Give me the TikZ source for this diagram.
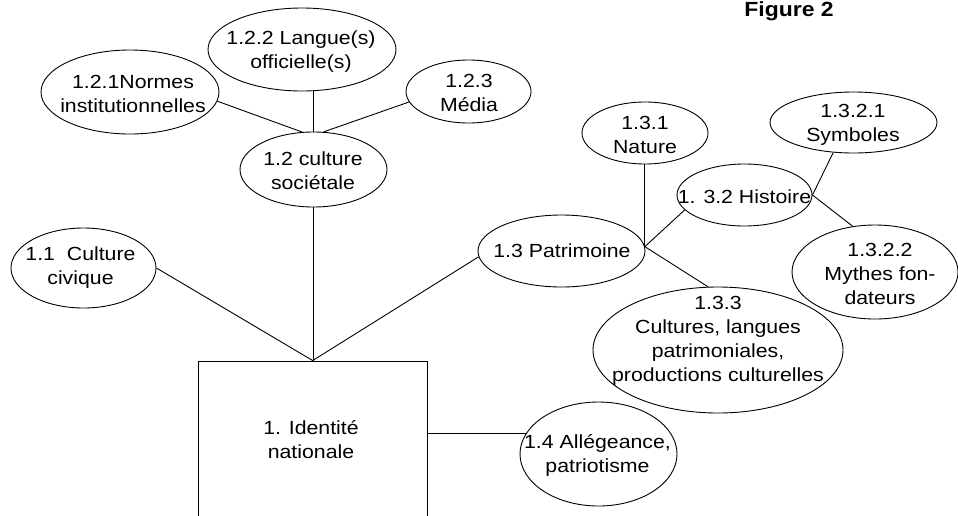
\documentclass[tikz,border=0pt]{standalone}
\usepackage{fontspec}
\setmainfont[FakeStretch=1.12]{Liberation Sans}
\usetikzlibrary{shapes.geometric}
\begin{document}
\begin{tikzpicture}[x=1pt,y=-1pt,
  every node/.style={font=\fontsize{19}{24}\selectfont},
  ell/.style={draw=black, ellipse, inner sep=0pt, line width=0.9pt},
  lbl/.style={align=center, inner sep=0pt},
  conn/.style={draw=black, line width=0.9pt},
  boxst/.style={draw=black, rectangle, inner sep=0pt, line width=0.9pt}]
\clip (0,0) rectangle (958,515);
% ellipses
\node[ell, minimum width=188pt, minimum height=83pt] (n122) at (302,49.5) {};
\node[ell, minimum width=178pt, minimum height=84pt] (n121) at (130,92) {};
\node[ell, minimum width=125pt, minimum height=63pt] (n123) at (468.5,91.5) {};
\node[ell, minimum width=147pt, minimum height=75pt] (n12) at (313.5,169.5) {};
\node[ell, minimum width=145pt, minimum height=80pt] (n11) at (83.5,268) {};
\node[ell, minimum width=167pt, minimum height=72pt] (n13) at (561.5,251) {};
\node[ell, minimum width=126pt, minimum height=62pt] (n131) at (645,133) {};
\node[ell, minimum width=135pt, minimum height=62pt] (n132) at (744.5,195) {};
\node[ell, minimum width=167pt, minimum height=61pt] (n1321) at (853.5,122.5) {};
\node[ell, minimum width=166pt, minimum height=94pt] (n1322) at (875,272) {};
\node[ell, minimum width=250pt, minimum height=126pt] (n133) at (718,350) {};
\node[ell, minimum width=157pt, minimum height=104pt] (n14) at (598.5,454) {};
\node[boxst, minimum width=228.7pt, minimum height=158pt] (box) at (312.7,440) {};
% labels
\node[lbl] (t122) at (301,51.5) {1.2.2 Langue(s)\\officielle(s)};
\node[lbl] (t121) at (133,94) {1.2.1Normes\\institutionnelles};
\node[lbl] (t123) at (469,93) {1.2.3\\Média};
\node[lbl] (t12) at (313,171) {1.2 culture\\sociétale};
\node[lbl] (t11) at (80.5,268) {1.1\ \ Culture\\civique};
\node[lbl] (t13) at (562,251) {1.3 Patrimoine};
\node[lbl] (t131) at (645,135) {1.3.1\\Nature};
\node[lbl] (t132) at (744.5,197) {1. 3.2 Histoire};
\node[lbl] (t1321) at (853,124.5) {1.3.2.1\\Symboles};
\node[lbl] (t1322) at (880,274) {1.3.2.2\\Mythes fon-\\dateurs};
\node[lbl] (t133) at (718,340.5) {1.3.3\\Cultures, langues\\patrimoniales,\\productions culturelles};
\node[lbl] (t14) at (597.5,455.5) {1.4 Allégeance,\\patriotisme};
\node[lbl] (tbox) at (311,440) {1. Identité\\nationale};
\node[inner sep=0pt, anchor=base, font=\bfseries\fontsize{20.5}{24}\selectfont] (fig) at (789,16) {Figure 2};
% junction on 1.3
\coordinate (J) at (n13.3);
% connectors
\draw[conn] (n121.-6) -- (n12.107);
\draw[conn] (n12.north) -- (n12.north |- n122.south);
\draw[conn] (n123.-170.5) -- (n12.75);
\draw[conn] (n12.south) -- (n12.south |- box.north);
\draw[conn] (n11.east) -- (box.north);
\draw[conn] (n13.184) -- (box.north);
\draw[conn] (J) -- (J |- n131.south);
\draw[conn] (J) -- (n132.-166);
\draw[conn] (J) -- (n133.99);
\draw[conn] (n1321.-124) -- (n132.east);
\draw[conn] (n132.east) -- (n1322.116);
\draw[conn] (n14.164) -- (n14.164 -| box.east);
\end{tikzpicture}
\end{document}
